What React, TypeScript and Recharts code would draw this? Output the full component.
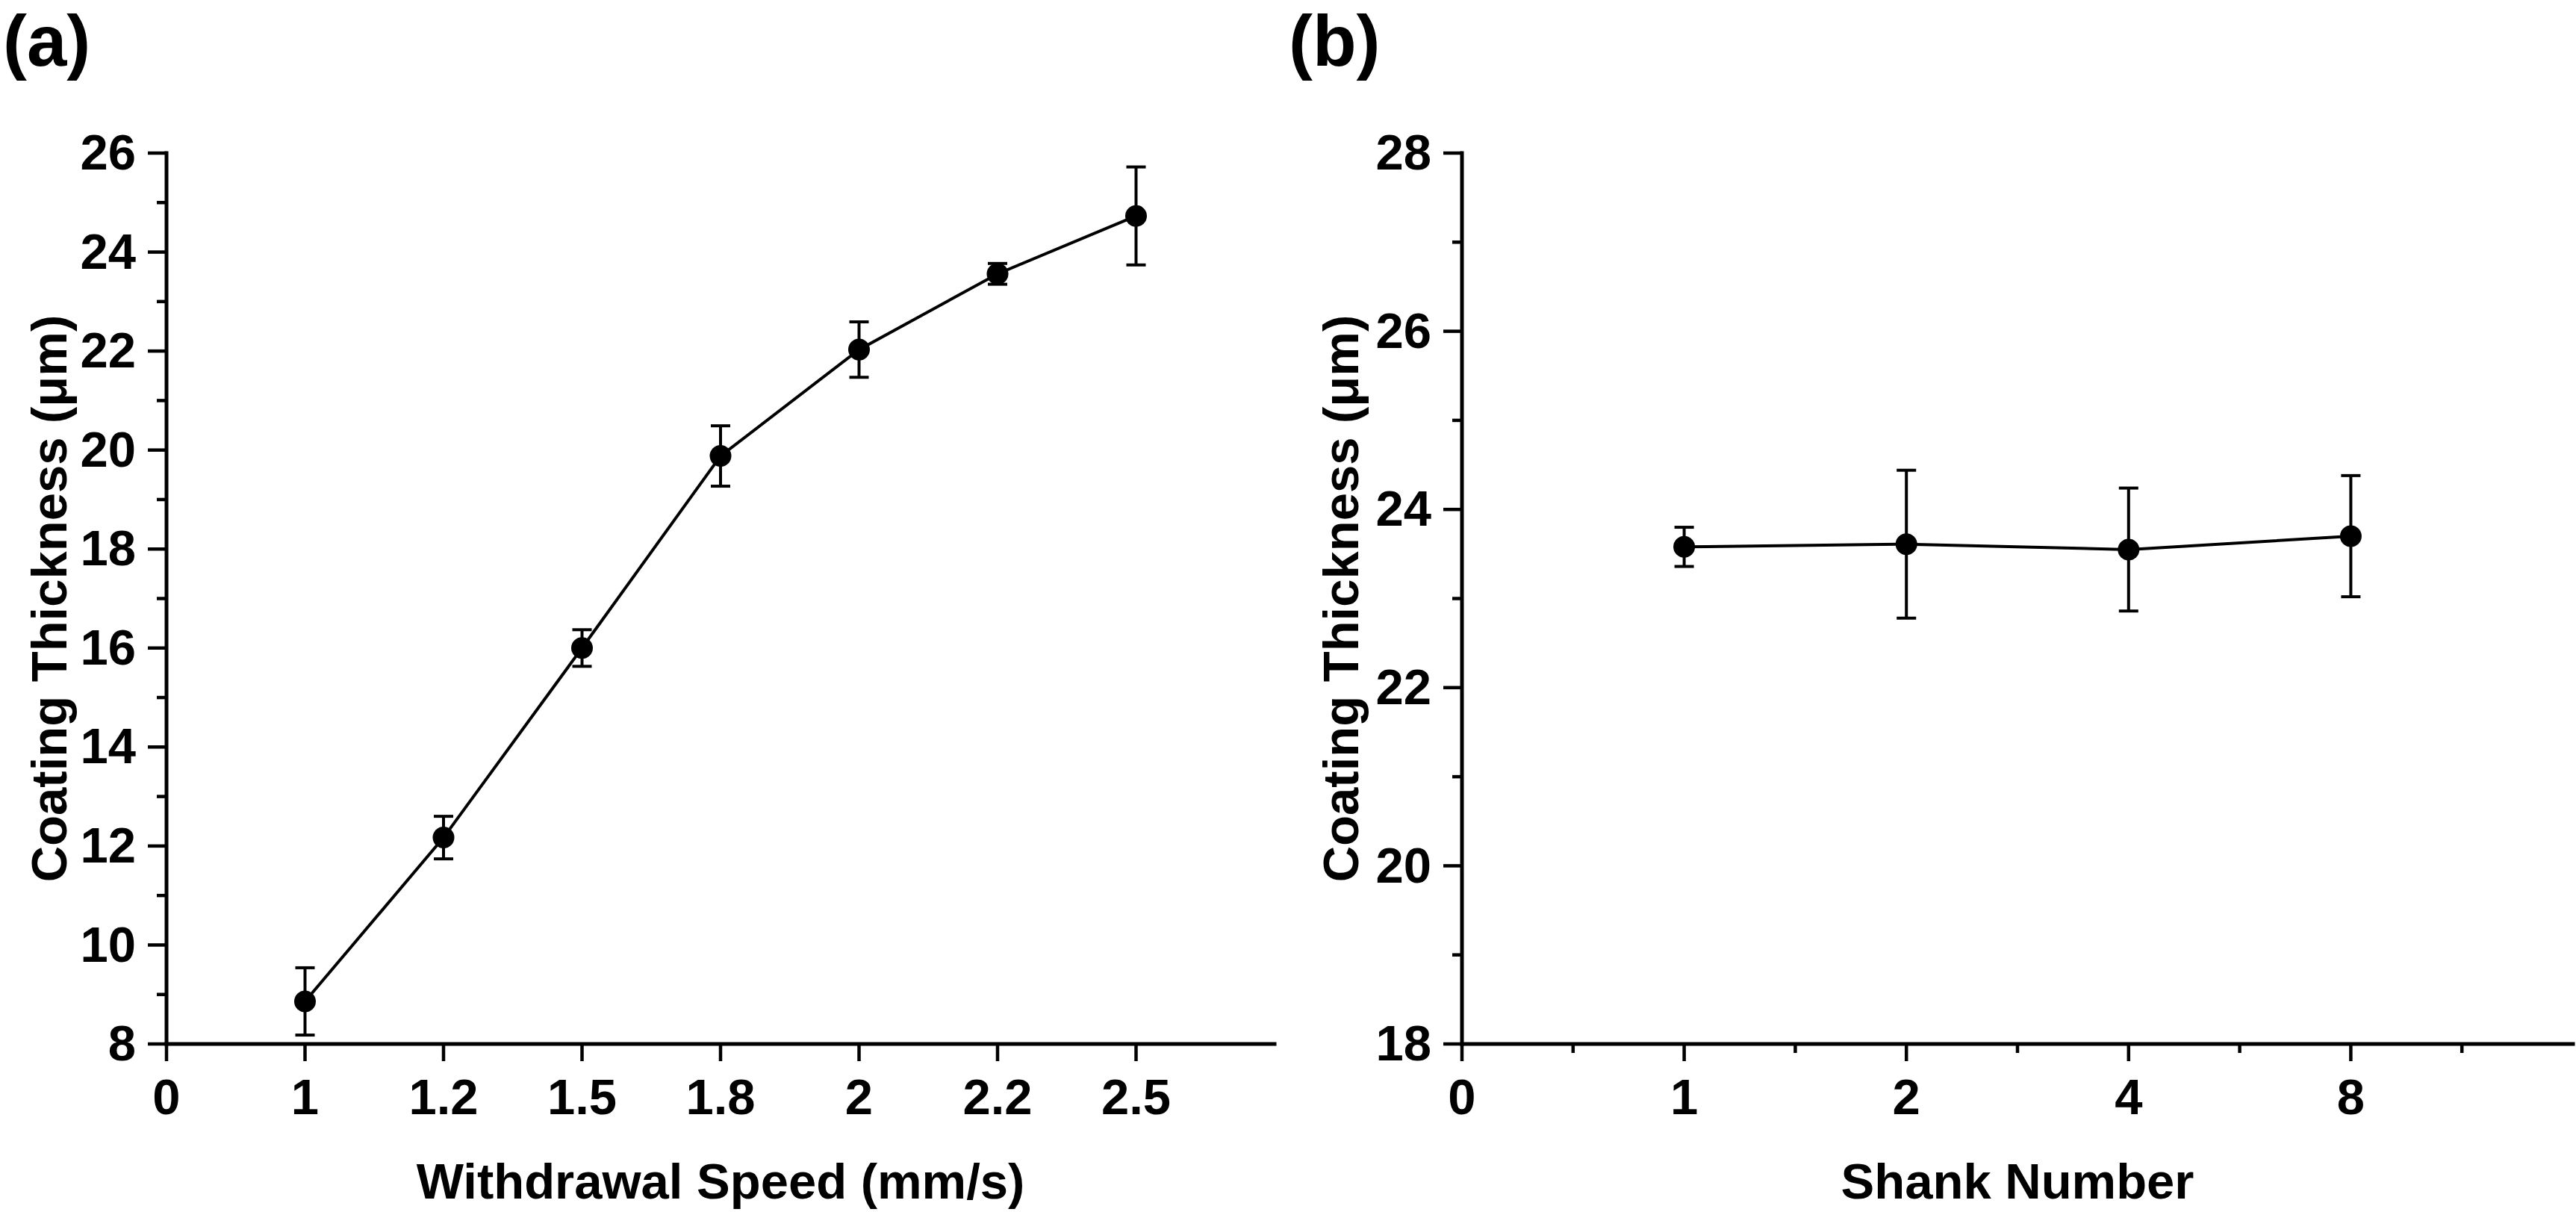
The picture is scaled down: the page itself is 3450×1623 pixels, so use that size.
import { LineChart, Line, XAxis, YAxis, ErrorBar } from "recharts";

const FONT = '"Liberation Sans", Arial, Helvetica, sans-serif';

// (a) coating thickness vs withdrawal speed
const speedLabels = ["1", "1.2", "1.5", "1.8", "2", "2.2", "2.5"];
const thicknessBySpeed = [8.86, 12.17, 16.0, 19.88, 22.03, 23.56, 24.73];
const errorBySpeed = [0.68, 0.43, 0.37, 0.61, 0.56, 0.21, 0.99];
const speedTickLabels = ["0", ...speedLabels];
const speedYTicks = [8, 9, 10, 11, 12, 13, 14, 15, 16, 17, 18, 19, 20, 21, 22, 23, 24, 25, 26];

// (b) coating thickness vs shank number
const shankLabels = ["1", "2", "4", "8"];
const thicknessByShank = [23.58, 23.61, 23.55, 23.7];
const errorByShank = [0.22, 0.83, 0.69, 0.68];
const shankTickLabels = ["0", ...shankLabels];
const shankXTicks = [0, 0.5, 1, 1.5, 2, 2.5, 3, 3.5, 4, 4.5];
const shankYTicks = [18, 19, 20, 21, 22, 23, 24, 25, 26, 27, 28];

const speedData = speedLabels.map((label, i) => ({
  pos: i + 1,
  label,
  thickness: thicknessBySpeed[i],
  err: errorBySpeed[i],
}));

const shankData = shankLabels.map((label, i) => ({
  pos: i + 1,
  label,
  thickness: thicknessByShank[i],
  err: errorByShank[i],
}));

const textStyle = {
  fontFamily: FONT,
  fontWeight: "bold" as const,
  fontSize: 67,
  fill: "#000",
};

const axisLine = { stroke: "#000", strokeWidth: 5, strokeLinecap: "square" as const };

// y ticks: long + label on even values, short on odd values
const makeYTick = () => (props: any) => {
  const { x, y, payload } = props;
  const major = payload.value % 2 === 0;
  return (
    <g>
      <line x1={x - (major ? 25 : 13)} x2={x} y1={y} y2={y} stroke="#000" strokeWidth={4.5} />
      {major && (
        <text x={x - 41} y={y} dy="0.33em" textAnchor="end" style={textStyle}>
          {payload.value}
        </text>
      )}
    </g>
  );
};

// x ticks: labelled ticks on whole positions, short ticks on halves
const makeXTick = (labels: string[]) => (props: any) => {
  const { x, y, payload } = props;
  const major = Number.isInteger(payload.value);
  return (
    <g>
      <line x1={x} x2={x} y1={y} y2={y + (major ? 23 : 12)} stroke="#000" strokeWidth={4.5} />
      {major && (
        <text x={x} y={y + 94} textAnchor="middle" style={textStyle}>
          {labels[payload.value]}
        </text>
      )}
    </g>
  );
};

function Panel({
  data,
  width,
  yAxisWidth,
  marginRight,
  xDomain,
  xTicks,
  xLabels,
  xTitle,
  yDomain,
  yTicks,
}: {
  data: { pos: number; thickness: number; err: number }[];
  width: number;
  yAxisWidth: number;
  marginRight: number;
  xDomain: [number, number];
  xTicks: number[];
  xLabels: string[];
  xTitle: string;
  yDomain: [number, number];
  yTicks: number[];
}) {
  return (
    <LineChart
      width={width}
      height={1623}
      data={data}
      margin={{ top: 205, right: marginRight, bottom: 0, left: 0 }}
    >
      <XAxis
        type="number"
        dataKey="pos"
        domain={xDomain}
        ticks={xTicks}
        interval={0}
        tickSize={0}
        tickMargin={0}
        tickLine={false}
        tick={makeXTick(xLabels)}
        axisLine={axisLine}
        height={225}
        label={{
          value: xTitle,
          position: "insideBottom",
          offset: 18,
          style: textStyle,
        }}
      />
      <YAxis
        type="number"
        domain={yDomain}
        ticks={yTicks}
        interval={0}
        tickSize={0}
        tickMargin={0}
        tickLine={false}
        tick={makeYTick()}
        axisLine={axisLine}
        width={yAxisWidth}
        label={{
          value: "Coating Thickness (μm)",
          angle: -90,
          position: "insideLeft",
          offset: 65,
          style: { ...textStyle, textAnchor: "middle" },
        }}
      />
      <Line
        type="linear"
        dataKey="thickness"
        stroke="#000"
        strokeWidth={4}
        dot={{ r: 14.5, fill: "#000", stroke: "#000", strokeWidth: 0 }}
        activeDot={false}
        isAnimationActive={false}
      >
        <ErrorBar
          dataKey="err"
          direction="y"
          width={13}
          stroke="#000"
          strokeWidth={4}
          isAnimationActive={false}
        />
      </Line>
    </LineChart>
  );
}

export default function App() {
  return (
    <div
      style={{
        position: "absolute",
        left: 0,
        top: 0,
        width: 3450,
        height: 1623,
        background: "#fff",
        overflow: "hidden",
      }}
    >
      <svg width={3450} height={1623} style={{ position: "absolute", left: 0, top: 0 }}>
        <text x={4} y={88} style={{ ...textStyle, fontSize: 96 }}>
          (a)
        </text>
        <text x={1726} y={88} style={{ ...textStyle, fontSize: 96 }}>
          (b)
        </text>
      </svg>
      <div style={{ position: "absolute", left: 0, top: 0 }}>
        <Panel
          data={speedData}
          width={1730}
          yAxisWidth={223}
          marginRight={23}
          xDomain={[0, 8]}
          xTicks={speedTickLabels.map((_, i) => i)}
          xLabels={speedTickLabels}
          xTitle="Withdrawal Speed (mm/s)"
          yDomain={[8, 26]}
          yTicks={speedYTicks}
        />
      </div>
      <div style={{ position: "absolute", left: 1730, top: 0 }}>
        <Panel
          data={shankData}
          width={1720}
          yAxisWidth={228}
          marginRight={4}
          xDomain={[0, 5]}
          xTicks={shankXTicks}
          xLabels={shankTickLabels}
          xTitle="Shank Number"
          yDomain={[18, 28]}
          yTicks={shankYTicks}
        />
      </div>
    </div>
  );
}
